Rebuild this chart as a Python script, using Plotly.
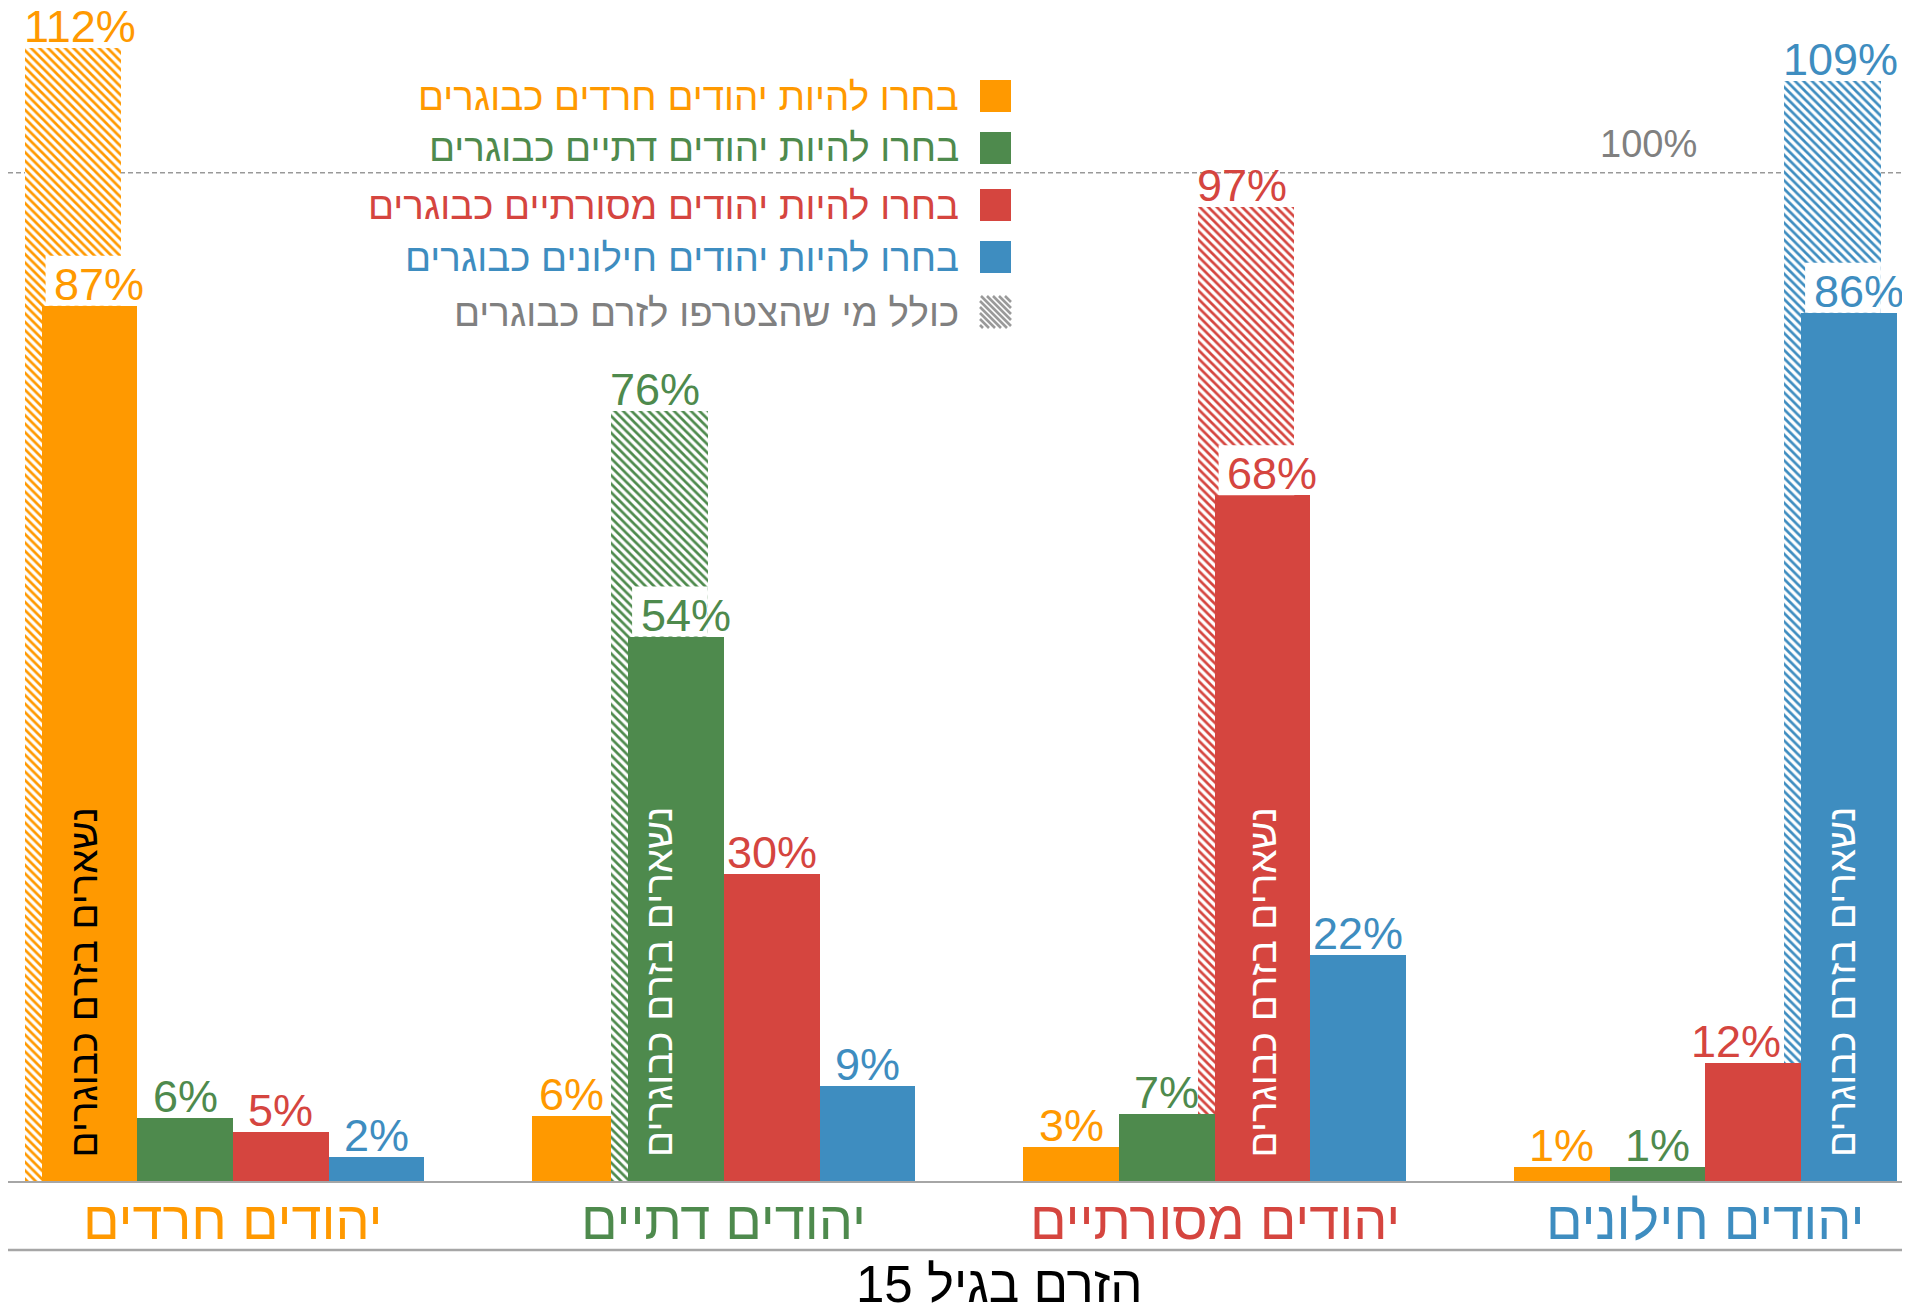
import plotly.graph_objects as go

# ---------------- data ----------------
groups = ['יהודים חרדים', 'יהודים דתיים', 'יהודים מסורתיים', 'יהודים חילונים']
series_names = ['בחרו להיות יהודים חרדים כבוגרים',
                'בחרו להיות יהודים דתיים כבוגרים',
                'בחרו להיות יהודים מסורתיים כבוגרים',
                'בחרו להיות יהודים חילונים כבוגרים']
hatch_name = 'כולל מי שהצטרפו לזרם כבוגרים'
stay_text = 'נשארים בזרם כבוגרים'
axis_title = 'הזרם בגיל 15'
ref_label = '100%'
ref_value = 100

haredi_adult = [86.8, 6.4, 3.4, 1.4]
dati_adult = [6.2, 54.0, 6.6, 1.4]
masorti_adult = [4.9, 30.4, 68.0, 11.7]
hiloni_adult = [2.4, 9.4, 22.4, 86.1]
incl_joiners = [112.4, 76.4, 96.6, 109.1]

colors = ['#FF9900', '#4E8A4D', '#D5453F', '#3E8DC0']
grey = '#808080'
FONT = 'Liberation Sans, Arial, sans-serif'

series_vals = [haredi_adult, dati_adult, masorti_adult, hiloni_adult]

# ---------------- geometry ----------------
W, H = 1910, 1308
OFFS = 8                 # page body margin
ML = 0
BASE = 1181              # screen y of the baseline
PLOT_H = BASE - OFFS
MB = H - PLOT_H
PLOT_W = W - ML
UNIT = 490.8             # px per category
X0 = (OFFS - 233.0) / UNIT
X_RANGE = [X0, X0 + PLOT_W / UNIT]
Y_RANGE = [0, PLOT_H / 10.083]
BW = 0.195          # solid bar width
HW = 0.197          # hatched bar width
HOFF = -0.0336      # hatched bar offset from matching solid bar

# label nudges (px) to keep labels clear of neighbouring marks
label_xshift = {(0, 1): -9, (2, 3): -17}
stay_xshift = [-6, -18, 0, -8]


def off(j):
    return (j - 1.5) * BW


def px_x(p):
    return (p - OFFS - ML) / PLOT_W


def px_y(p):
    return (BASE - p) / PLOT_H


fig = go.Figure()


def hatch_trace(mask):
    xs, ys, cs = [], [], []
    for i in range(4):
        if mask[i]:
            xs.append(i + off(i) + HOFF)
            ys.append(incl_joiners[i])
            cs.append(colors[i])
    fig.add_trace(go.Bar(
        x=xs, y=ys, width=HW,
        marker=dict(color='white', line=dict(width=0),
                    pattern=dict(shape='\\', fgcolor=cs, bgcolor='white',
                                 size=6, solidity=0.45, fillmode='replace')),
        hoverinfo='skip', showlegend=False))


def solid_trace(j):
    fig.add_trace(go.Bar(
        x=[i + off(j) for i in range(4)], y=series_vals[j], width=BW,
        marker=dict(color=colors[j], line=dict(width=0)),
        name=series_names[j], showlegend=False))


# drawing order as in reference
hatch_trace([True, False, True, True])
solid_trace(0)
hatch_trace([False, True, False, False])
for j in (1, 2, 3):
    solid_trace(j)

ann = []
shapes = []
# value labels for solid bars
for j in range(4):
    for i in range(4):
        v = series_vals[j][i]
        if i == j:
            # white backing where the label sits over the hatched bar
            shapes.append(dict(type='rect', xref='x', yref='y', layer='above',
                               x0=i + off(j) - BW / 2 + 4 / UNIT,
                               x1=i + off(i) + HOFF + HW / 2,
                               ysizemode='pixel', yanchor=v, y0=0, y1=50,
                               fillcolor='white', line=dict(width=0)))
        xs = 10 if i == j else label_xshift.get((j, i), 0)
        ann.append(dict(x=i + off(j), y=v, xref='x', yref='y',
                        text=f'{round(v)}%', showarrow=False,
                        xanchor='center', yanchor='bottom',
                        xshift=xs, yshift=-6,
                        font=dict(family=FONT, size=45, color=colors[j])))
# labels for hatched bars
for i in range(4):
    v = incl_joiners[i]
    ann.append(dict(x=i + off(i) + HOFF - HW / 2, y=v, xref='x', yref='y',
                    text=f'{round(v)}%', showarrow=False,
                    xanchor='left', yanchor='bottom', xshift=-3, yshift=-6,
                    font=dict(family=FONT, size=45, color=colors[i])))
# vertical text inside main bars
for i in range(4):
    ann.append(dict(x=i + off(i), y=0, xref='x', yref='y',
                    text=stay_text, showarrow=False, textangle=-90,
                    xanchor='center', yanchor='bottom', yshift=22,
                    xshift=stay_xshift[i],
                    font=dict(family=FONT, size=38.5,
                              color='black' if i == 0 else 'white')))
# category labels
for i in range(4):
    ann.append(dict(x=i, y=0, xref='x', yref='paper', text=groups[i],
                    showarrow=False, xanchor='center', yanchor='middle',
                    yshift=-(1220 - BASE), font=dict(family=FONT, size=54, color=colors[i])))
# axis title
ann.append(dict(x=px_x(999), y=0, xref='paper', yref='paper', text=axis_title,
                showarrow=False, xanchor='center', yanchor='middle',
                yshift=-(1284 - BASE),
                font=dict(family=FONT, size=51, color='black')))
# 100% label
ann.append(dict(x=px_x(1648), y=ref_value, xref='paper', yref='y', text=ref_label,
                showarrow=False, xanchor='center', yanchor='bottom', yshift=6,
                font=dict(family=FONT, size=38, color=grey)))

shapes.append(dict(type='line', xref='paper', yref='y', x0=0, x1=1,
                   y0=ref_value, y1=ref_value, layer='below',
                   line=dict(color='#999999', width=1.5, dash='5px,3px')))
shapes.append(dict(type='line', xref='paper', yref='paper', x0=0, x1=1,
                   y0=px_y(1250), y1=px_y(1250),
                   line=dict(color='#A6A6A6', width=2.5)))

# legend (manual, RTL)
leg_y = [96, 148, 205, 257, 312]
SQ_X0, SQ_X1, SQ_H = 980, 1011, 32
TXT_R = 961
for k in range(4):
    cy = leg_y[k]
    shapes.append(dict(type='rect', xref='paper', yref='paper',
                       x0=px_x(SQ_X0), x1=px_x(SQ_X1),
                       y0=px_y(cy + SQ_H / 2), y1=px_y(cy - SQ_H / 2),
                       fillcolor=colors[k], line=dict(width=0)))
    ann.append(dict(x=px_x(TXT_R), y=px_y(cy), xref='paper', yref='paper',
                    text=series_names[k], showarrow=False, xanchor='right',
                    yanchor='middle', font=dict(family=FONT, size=38.5, color=colors[k])))
# hatched legend square
cy = leg_y[4]
x0, x1, y0, y1 = SQ_X0, SQ_X1, cy - SQ_H / 2, cy + SQ_H / 2
path = ''
k = y0 - x1
while k < y1 - x0:
    xs = max(x0, y0 - k)
    xe = min(x1, y1 - k)
    if xe > xs:
        path += f'M{px_x(xs)},{px_y(xs + k)} L{px_x(xe)},{px_y(xe + k)} '
    k += 6
shapes.append(dict(type='path', xref='paper', yref='paper', path=path,
                   line=dict(color='#9a9a9a', width=2.6)))
ann.append(dict(x=px_x(TXT_R), y=px_y(cy), xref='paper', yref='paper',
                text=hatch_name, showarrow=False, xanchor='right',
                yanchor='middle', font=dict(family=FONT, size=38.5, color=grey)))

fig.update_layout(
    width=W, height=H,
    margin=dict(l=ML, r=0, t=0, b=MB, pad=0),
    paper_bgcolor='white', plot_bgcolor='white',
    barmode='overlay', bargap=0,
    showlegend=False,
    xaxis=dict(range=X_RANGE, showticklabels=False, showgrid=False,
               zeroline=False, showline=True, linecolor='#A6A6A6',
               linewidth=2, ticks=''),
    yaxis=dict(range=Y_RANGE, visible=False, showgrid=False, zeroline=False),
    annotations=ann, shapes=shapes,
    font=dict(family=FONT),
)

fig.write_html('out.html')
